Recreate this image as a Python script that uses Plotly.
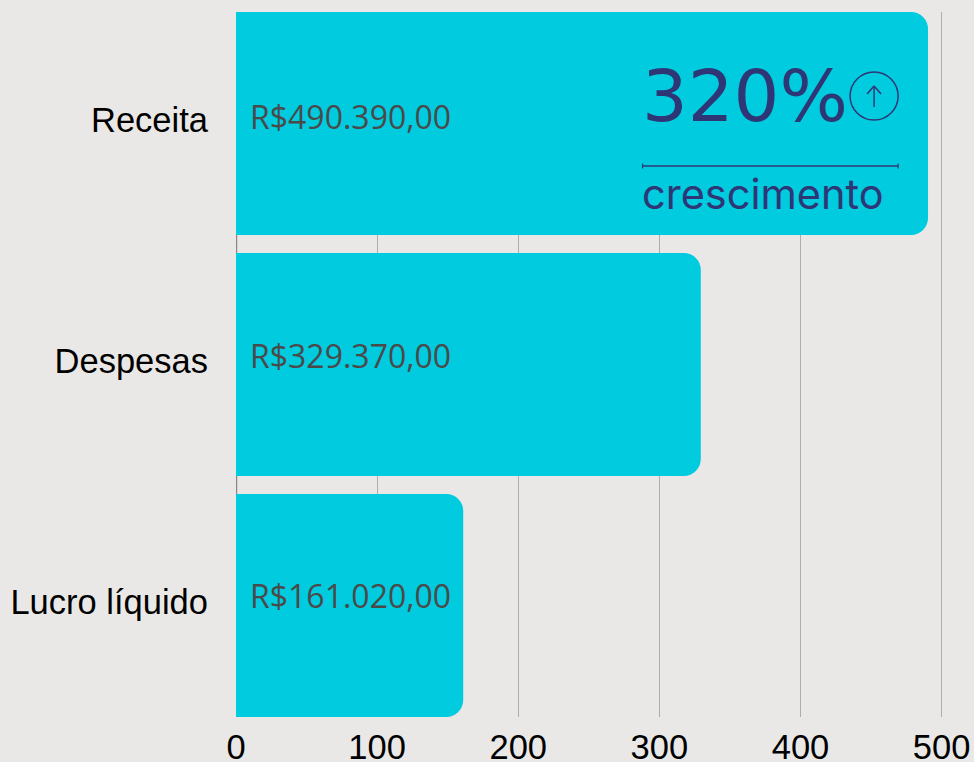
import plotly.graph_objects as go

categories = ["Receita", "Despesas", "Lucro líquido"]
values = [490.39, 329.37, 161.02]
bar_labels = ["R$490.390,00", "R$329.370,00", "R$161.020,00"]
tick_values = [0, 100, 200, 300, 400, 500]
kpi_value = "320%"
kpi_label = "crescimento"

BG = "#e9e8e6"
BAR = "#00cbdf"
NAVY = "#2f3676"
W, H = 974, 762
L, R, T, B = 236, 942.9, 12, 717


def px(x):
    return (x - L) / (R - L)


def py(y):
    return (B - y) / (B - T)


fig = go.Figure(go.Bar(
    y=categories, x=values, orientation="h",
    marker=dict(color=BAR, line=dict(width=0), cornerradius=17),
    hoverinfo="skip",
))

annotations = [
    dict(x=0, y=c, xref="x", yref="y", text=t, showarrow=False, xanchor="left",
         xshift=11.5, yshift=s, font=dict(family="Open Sans", size=32, color="#4a4a4a"))
    for c, t, s in zip(categories, bar_labels, [7, 9, 10])
]
annotations += [
    dict(x=px(641), y=py(96), xref="paper", yref="paper", text=kpi_value, showarrow=False,
         xanchor="left", yanchor="middle", xshift=0,
         font=dict(family="DejaVu Sans ExtraLight, DejaVu Sans", size=72, color=NAVY), borderpad=0),
    dict(x=px(641), y=py(194), xref="paper", yref="paper", text=kpi_label, showarrow=False,
         xanchor="left", yanchor="middle",
         font=dict(family="Inter", size=41.5, color=NAVY), borderpad=0),
]


def line(x0, y0, x1, y1, width=1.5):
    return dict(type="line", xref="paper", yref="paper", x0=px(x0), y0=py(y0), x1=px(x1), y1=py(y1),
                line=dict(color=NAVY, width=width), layer="above")


shapes = [
    dict(type="line", xref="paper", yref="paper", x0=px(236.6), x1=px(236.6), y0=0, y1=1,
         line=dict(color="#8c8583", width=1.2), layer="below"),
    dict(type="circle", xref="paper", yref="paper", x0=px(850), x1=px(898), y0=py(120), y1=py(72),
         line=dict(color=NAVY, width=1.5), layer="above"),
    line(874, 107, 874, 86),
    line(874, 86, 867, 94),
    line(874, 86, 881, 94),
    line(642.5, 166, 898, 166),
    line(642.5, 163.5, 642.5, 168.5, 1.2),
    line(898, 163.5, 898, 168.5, 1.2),
]

fig.update_layout(
    width=W, height=H,
    margin=dict(l=L, r=W - R, t=T, b=H - B, pad=0, autoexpand=False),
    paper_bgcolor=BG, plot_bgcolor=BG,
    bargap=0.075, showlegend=False,
    font=dict(family="Liberation Sans", size=34, color="#000000"),
    annotations=annotations, shapes=shapes,
    xaxis=dict(range=[0, 501], tickvals=tick_values, showgrid=True, gridcolor="#aeadab", gridwidth=1.3,
               zeroline=False, showline=False, ticks="", ticklabelstandoff=6, automargin=False,
               tickfont=dict(family="Liberation Sans", size=34.5, color="#000000")),
    yaxis=dict(categoryorder="array", categoryarray=categories, range=[2.4627, -0.4627],
               showgrid=False, zeroline=False, showline=False,
               ticks="", ticklabelstandoff=27, ticklabelshift=4, automargin=False,
               tickfont=dict(family="Liberation Sans", size=34.5, color="#000000")),
)

fig.write_html("out.html", config=dict(displayModeBar=False),
               post_script="document.body.style.margin='0';document.documentElement.style.overflow='hidden';")
